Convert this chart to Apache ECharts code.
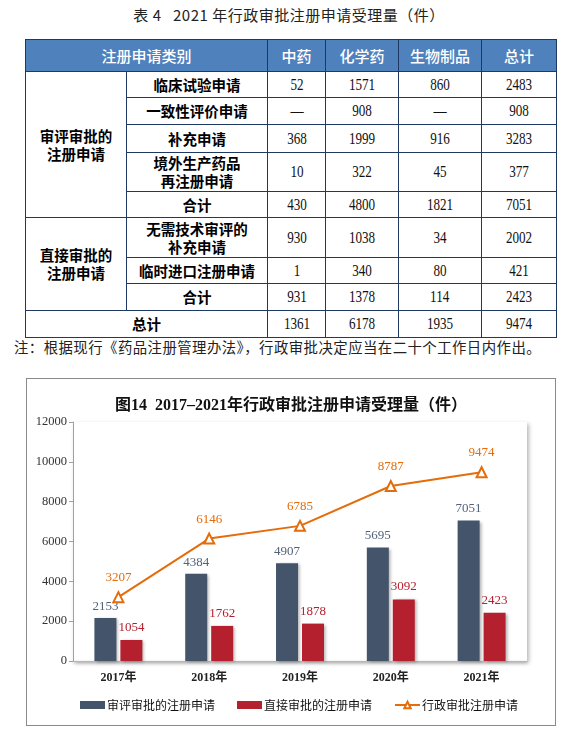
<!DOCTYPE html>
<html>
<head>
<meta charset="utf-8">
<script src="https://cdn.jsdelivr.net/npm/echarts@6/dist/echarts.min.js"></script>
<style>
  html, body { margin: 0; padding: 0; background: #fff; }
  body { width: 578px; height: 748px; position: relative; overflow: hidden; font-family: "Noto Sans CJK SC", sans-serif; }
  #ttitle { position: absolute; left: 0; top: 5px; width: 578px; text-align: center; font-size: 15px; line-height: 20px; color: #222; letter-spacing: 0.5px; }
  #tbl { position: absolute; left: 25px; top: 39px; border-collapse: collapse; table-layout: fixed; }
  #tbl td, #tbl th { border: 1px solid #1F3864; padding: 0; text-align: center; vertical-align: middle; line-height: 18px; }
  #tbl th { background: #4F81BD; color: #fff; font-weight: 500; font-size: 15px; }
  #tbl td.lab { font-weight: bold; font-size: 14.5px; color: #000; }
  #tbl td.num { font-family: "Liberation Serif", serif; font-size: 16px; color: #111; }
  #tbl td.num span { display: inline-block; transform: scaleX(0.82); }
  #note { position: absolute; left: 14px; top: 337px; font-size: 14.4px; line-height: 20px; color: #222; white-space: nowrap; letter-spacing: 0.45px; }
  #chartbox { position: absolute; left: 26px; top: 378px; width: 530px; height: 348px; box-sizing: border-box; border: 1px solid #8a8a8a; }
  #chart { width: 528px; height: 346px; }
</style>
</head>
<body>
<div id="ttitle">表 4&nbsp;&nbsp; 2021 年行政审批注册申请受理量（件）</div>
<table id="tbl"></table>
<div id="note">注：根据现行《药品注册管理办法》，行政审批决定应当在二十个工作日内作出。</div>
<div id="chartbox"><div id="chart"></div></div>
<script>
// ---- Table data ----
const tableHeaders = ['注册申请类别', '中药', '化学药', '生物制品', '总计'];
const groupNames = ['审评审批的<br>注册申请', '直接审批的<br>注册申请'];
const groupSizes = [5, 3];
const rowLabels = ['临床试验申请', '一致性评价申请', '补充申请', '境外生产药品<br>再注册申请', '合计',
                   '无需技术审评的<br>补充申请', '临时进口注册申请', '合计'];
const totalLabel = '总计';
const colTCM   = ['52', '—', '368', '10', '430', '930', '1', '931', '1361'];
const colChem  = ['1571', '908', '1999', '322', '4800', '1038', '340', '1378', '6178'];
const colBio   = ['860', '—', '916', '45', '1821', '34', '80', '114', '1935'];
const colTotal = ['2483', '908', '3283', '377', '7051', '2002', '421', '2423', '9474'];

// ---- Chart data ----
const years = ['2017年', '2018年', '2019年', '2020年', '2021年'];
const reviewApproval = [2153, 4384, 4907, 5695, 7051];
const directApproval = [1054, 1762, 1878, 3092, 2423];
const adminApproval = [3207, 6146, 6785, 8787, 9474];
const seriesNames = ['审评审批的注册申请', '直接审批的注册申请', '行政审批注册申请'];
const chartTitle = '图14  2017–2021年行政审批注册申请受理量（件）';

// ---- Build table ----
(function () {
  const colWidths = [101, 141, 58, 73, 83, 75];
  const rowHeights = [26, 27, 28, 39, 26, 40, 26, 27, 27];
  const cols = [colTCM, colChem, colBio, colTotal];
  let html = '<colgroup>' + colWidths.map(w => '<col style="width:' + w + 'px">').join('') + '</colgroup>';
  html += '<tr style="height:32px"><th colspan="2">' + tableHeaders[0] + '</th>' +
          tableHeaders.slice(1).map(h => '<th>' + h + '</th>').join('') + '</tr>';
  let r = 0;
  groupNames.forEach((g, gi) => {
    for (let k = 0; k < groupSizes[gi]; k++) {
      html += '<tr style="height:' + rowHeights[r] + 'px">';
      if (k === 0) html += '<td class="lab" rowspan="' + groupSizes[gi] + '">' + g + '</td>';
      html += '<td class="lab">' + rowLabels[r] + '</td>';
      cols.forEach(c => { html += '<td class="num"><span>' + c[r] + '</span></td>'; });
      html += '</tr>';
      r++;
    }
  });
  html += '<tr style="height:' + rowHeights[r] + 'px"><td class="lab" colspan="2">' + totalLabel + '</td>';
  cols.forEach(c => { html += '<td class="num"><span>' + c[r] + '</span></td>'; });
  html += '</tr>';
  document.getElementById('tbl').innerHTML = html;
})();

// ---- Build chart ----
const serif = '"Liberation Serif", "Noto Sans CJK SC", serif';
const chart = echarts.init(document.getElementById('chart'), null, { renderer: 'canvas' });
chart.setOption({
  animation: false,
  backgroundColor: '#fff',
  title: {
    text: chartTitle,
    left: 'center',
    top: 14,
    textStyle: { fontFamily: serif, fontSize: 16, fontWeight: 'bold', color: '#111' }
  },
  grid: {
    left: 46, right: 28, top: 43, bottom: 64,
    show: true, backgroundColor: '#fff', borderWidth: 0,
    shadowColor: 'rgba(0,0,0,0.28)', shadowBlur: 4, shadowOffsetX: 2, shadowOffsetY: 2
  },
  legend: {
    left: 48, top: 315,
    itemWidth: 25, itemHeight: 8, itemGap: 22,
    textStyle: { fontFamily: '"Noto Sans CJK SC", sans-serif', fontSize: 12, color: '#111', padding: [0, 0, 0, -3] },
    data: [
      { name: seriesNames[0], icon: 'rect' },
      { name: seriesNames[1], icon: 'rect' },
      { name: seriesNames[2] }
    ]
  },
  xAxis: {
    type: 'category',
    data: years,
    axisLine: { lineStyle: { color: '#b5b5b5', width: 1, shadowColor: 'rgba(0,0,0,0.3)', shadowBlur: 3, shadowOffsetY: 1 } },
    axisTick: { show: false },
    axisLabel: { margin: 11, fontFamily: serif, fontSize: 12, fontWeight: 'bold', color: '#222' }
  },
  yAxis: {
    type: 'value',
    min: 0, max: 12000, interval: 2000,
    axisLine: { show: true, lineStyle: { color: '#a0a0a0' } },
    axisTick: { show: true, length: 4, lineStyle: { color: '#a0a0a0' } },
    splitLine: { show: false },
    axisLabel: { margin: 6, fontFamily: serif, fontSize: 12.5, color: '#333', formatter: v => String(v) }
  },
  series: [
    {
      name: seriesNames[0], type: 'bar', data: reviewApproval,
      barWidth: 22, barGap: '18%',
      itemStyle: { color: '#44546A', shadowColor: 'rgba(0,0,0,0.3)', shadowBlur: 3, shadowOffsetX: 2, shadowOffsetY: 1 },
      label: { show: true, position: 'top', distance: 5, fontFamily: serif, fontSize: 13, color: '#52627a' }
    },
    {
      name: seriesNames[1], type: 'bar', data: directApproval,
      barWidth: 22,
      itemStyle: { color: '#B5202E', shadowColor: 'rgba(0,0,0,0.3)', shadowBlur: 3, shadowOffsetX: 2, shadowOffsetY: 1 },
      label: { show: true, position: 'top', distance: 6, fontFamily: serif, fontSize: 13, color: '#B5202E' }
    },
    {
      name: seriesNames[2], type: 'line', data: adminApproval,
      symbol: 'triangle', symbolSize: 10,
      lineStyle: { color: '#E46C0A', width: 2 },
      itemStyle: { color: '#fff', borderColor: '#E46C0A', borderWidth: 2 },
      label: { show: true, position: 'top', distance: 7, fontFamily: serif, fontSize: 13, color: '#E46C0A' },
      z: 5
    }
  ]
});
</script>
</body>
</html>
